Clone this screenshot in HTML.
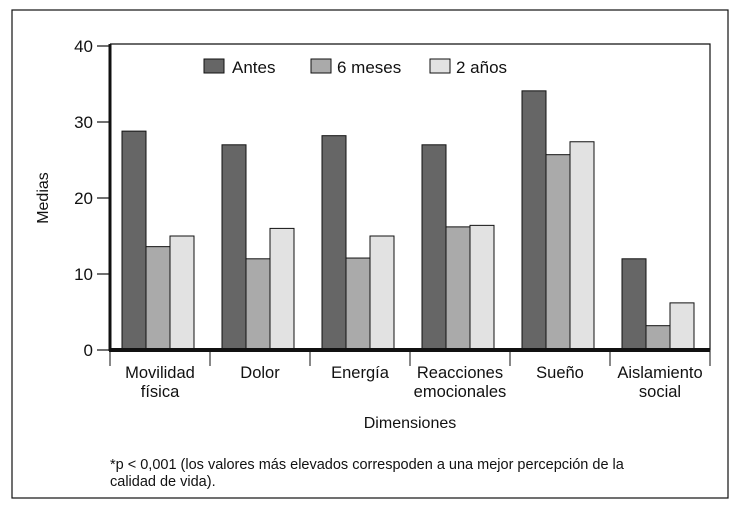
<!DOCTYPE html>
<html><head><meta charset="utf-8"><style>
body{margin:0;background:#fff}
svg{display:block;font-family:"Liberation Sans",Arial,sans-serif}
</style></head><body>
<svg id="chart" width="739" height="514" viewBox="0 0 739 514">
<rect x="12" y="10" width="716" height="488" fill="none" stroke="#111" stroke-width="1.2"/>
<g id="g"></g>
</svg>
<script>
const categories=[["Movilidad","física"],["Dolor"],["Energía"],["Reacciones","emocionales"],["Sueño"],["Aislamiento","social"]];
const antes=[28.8,27.0,28.2,27.0,34.1,12.0];
const seis=[13.6,12.0,12.1,16.2,25.7,3.2];
const dos=[15.0,16.0,15.0,16.4,27.4,6.2];
const seriesNames=["Antes","6 meses","2 años"];
const yTicks=[0,10,20,30,40];
const NS="http://www.w3.org/2000/svg";
const g=document.getElementById('g');
const X0=110,X1=710,Y0=350,Y1=46;
const y=v=>Y0-(v/40)*(Y0-Y1);
const bw=(X1-X0)/categories.length;
const x=i=>X0+i*bw;
function mk(t,a){const e=document.createElementNS(NS,t);for(const k in a)e.setAttribute(k,a[k]);g.appendChild(e);return e;}
const colors=["#666","#aaa","#e2e2e2"];
const series=[antes,seis,dos];
let e=mk('path',{d:`M${X0} 44H${X1}V${Y0}`,fill:'none',stroke:'#111','stroke-width':1.2});


series.forEach((s,si)=>s.forEach((v,i)=>{
 const r=mk('rect',{x:x(i)+12+si*24,y:y(v),width:24,height:Y0-y(v),fill:colors[si],stroke:'#111','stroke-width':1});
 
 
}));
e=mk('line',{x1:X0,y1:44,x2:X0,y2:Y0+1,stroke:'#111','stroke-width':3});


e=mk('line',{x1:X0-1,y1:Y0,x2:X1,y2:Y0,stroke:'#111','stroke-width':4});


yTicks.forEach(t=>{
 const l=mk('line',{x1:97,x2:X0,y1:y(t),y2:y(t),stroke:'#111','stroke-width':1.2});
 
 
 const tx=mk('text',{x:93,y:y(t)+6,'text-anchor':'end','font-size':17,fill:'#111'});tx.textContent=t;
 
 
});
for(let i=0;i<=categories.length;i++){
 const l=mk('line',{x1:x(i),x2:x(i),y1:Y0,y2:Y0+16,stroke:'#111','stroke-width':1});
 
 
}
categories.forEach((c,i)=>c.forEach((s,j)=>{
 const t=mk('text',{x:x(i)+bw/2,y:378+j*19,'text-anchor':'middle','font-size':16.5,fill:'#111'});t.textContent=s;
 
 
}));
const lx=[204,311,430];
seriesNames.forEach((n,i)=>{
 const r=mk('rect',{x:lx[i],y:59,width:20,height:14,fill:colors[i],stroke:'#111','stroke-width':1});
 
 
 const t=mk('text',{x:lx[i]+(i==0?28:26),y:73,'font-size':17,fill:'#111'});t.textContent=n;
 
 
});
let t=mk('text',{x:48,y:198,'text-anchor':'middle','font-size':16,fill:'#111',transform:'rotate(-90 48 198)'});t.textContent='Medias';


t=mk('text',{x:410,y:428,'text-anchor':'middle','font-size':16,fill:'#111'});t.textContent='Dimensiones';


t=mk('text',{x:110,y:469,'font-size':14.5,fill:'#111'});t.textContent='*p < 0,001 (los valores más elevados correspoden a una mejor percepción de la';


t=mk('text',{x:110,y:486,'font-size':14.5,fill:'#111'});t.textContent='calidad de vida).';


</script>
</body></html>
